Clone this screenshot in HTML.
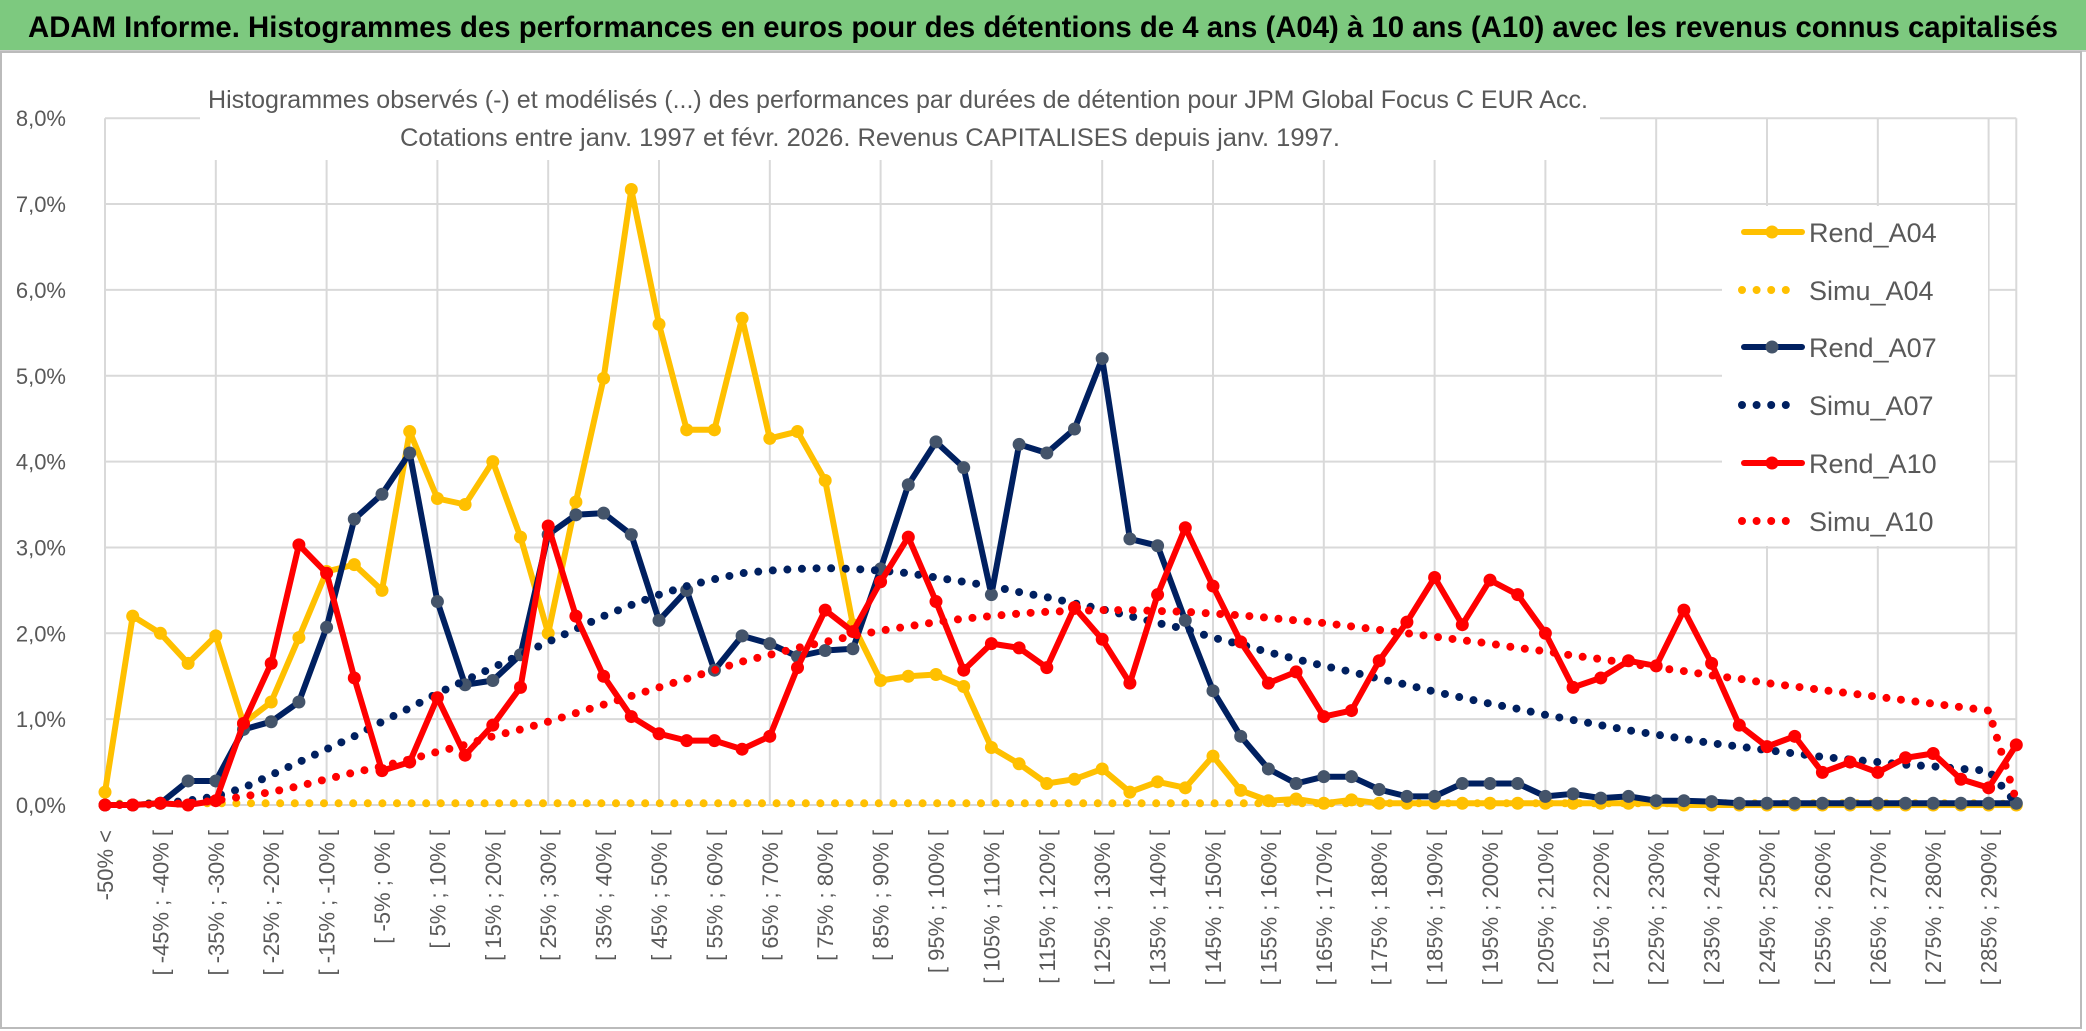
<!DOCTYPE html>
<html><head><meta charset="utf-8"><style>
html,body{margin:0;padding:0;background:#fff;}
svg{display:block;font-family:"Liberation Sans",sans-serif;}
</style></head><body>
<svg id="chart" width="2086" height="1031" viewBox="0 0 2086 1031" xmlns="http://www.w3.org/2000/svg">
<rect x="0" y="0" width="2086" height="1031" fill="#fff"/>
<rect x="0" y="0" width="2086" height="50" fill="#7dc97f"/>
<line x1="0" y1="51" x2="2086" y2="51" stroke="#ccc" stroke-width="2"/>
<text x="1043" y="37" text-anchor="middle" font-size="30" font-weight="bold" fill="#000" textLength="2030" lengthAdjust="spacingAndGlyphs">ADAM Informe. Histogrammes des performances en euros pour des détentions de 4 ans (A04) à 10 ans (A10) avec les revenus connus capitalisés</text>
<rect x="1" y="52" width="2080" height="976" fill="none" stroke="#bbb" stroke-width="2"/>
<g id="grid"></g>
<rect x="200" y="70" width="1400" height="90" fill="#fff"/>
<rect x="1722" y="206" width="266" height="340" fill="#fff"/>
<text x="898" y="108" text-anchor="middle" font-size="25" fill="#595959" textLength="1380" lengthAdjust="spacingAndGlyphs">Histogrammes observés (-) et modélisés (...) des performances par durées de détention pour JPM Global Focus C EUR Acc.</text>
<text x="870" y="146" text-anchor="middle" font-size="25" fill="#595959" textLength="940" lengthAdjust="spacingAndGlyphs">Cotations entre janv. 1997 et févr. 2026. Revenus CAPITALISES depuis janv. 1997.</text>
<g id="yaxis"></g>
<g id="xaxis"></g>
<g id="series"></g>
<g id="legend"></g>
</svg>
<script>
const rendA04 = [0.15,2.2,2.0,1.65,1.97,0.95,1.2,1.95,2.72,2.8,2.5,4.35,3.57,3.5,4.0,3.12,2.0,3.53,4.97,7.17,5.6,4.37,4.37,5.67,4.27,4.35,3.78,2.1,1.45,1.5,1.52,1.38,0.67,0.48,0.25,0.3,0.42,0.15,0.27,0.2,0.57,0.17,0.05,0.07,0.02,0.06,0.02,0.02,0.02,0.02,0.02,0.02,0.02,0.02,0.02,0.02,0.02,0.0,0.0,0.0,0.0,0.0,0.0,0.0,0.0,0.0,0.0,0.0,0.0,0.0];
const simuA04 = [0.01,0.02,0.02,0.02,0.02,0.02,0.02,0.02,0.02,0.02,0.02,0.02,0.02,0.02,0.02,0.02,0.02,0.02,0.02,0.02,0.02,0.02,0.02,0.02,0.02,0.02,0.02,0.02,0.02,0.02,0.02,0.02,0.02,0.02,0.02,0.02,0.02,0.02,0.02,0.02,0.02,0.02,0.02,0.02,0.02,0.02,0.02,0.02,0.02,0.02,0.02,0.02,0.02,0.02,0.02,0.02,0.02,0.02,0.02,0.02,0.02,0.02,0.02,0.02,0.02,0.02,0.02,0.02,0.02,0.01];
const rendA07 = [0,0,0.02,0.28,0.28,0.88,0.97,1.2,2.07,3.33,3.62,4.1,2.37,1.4,1.45,1.75,3.15,3.38,3.4,3.15,2.15,2.5,1.57,1.97,1.88,1.73,1.8,1.82,2.75,3.73,4.23,3.93,2.45,4.2,4.1,4.38,5.2,3.1,3.02,2.15,1.33,0.8,0.42,0.25,0.33,0.33,0.18,0.1,0.1,0.25,0.25,0.25,0.1,0.13,0.08,0.1,0.05,0.05,0.04,0.02,0.02,0.02,0.02,0.02,0.02,0.02,0.02,0.02,0.02,0.02];
const simuA07 = [0,0.01,0.02,0.05,0.1,0.2,0.35,0.5,0.65,0.8,0.97,1.13,1.3,1.45,1.6,1.75,1.9,2.05,2.2,2.33,2.45,2.55,2.63,2.7,2.73,2.75,2.76,2.75,2.73,2.7,2.65,2.6,2.55,2.48,2.42,2.35,2.28,2.2,2.12,2.05,1.95,1.87,1.78,1.7,1.62,1.55,1.47,1.4,1.32,1.25,1.18,1.12,1.05,0.99,0.93,0.87,0.82,0.77,0.72,0.68,0.64,0.6,0.56,0.53,0.5,0.47,0.45,0.42,0.4,0.02];
const rendA10 = [0,0,0.02,0,0.05,0.95,1.65,3.03,2.7,1.48,0.4,0.5,1.25,0.58,0.93,1.37,3.25,2.2,1.5,1.03,0.83,0.75,0.75,0.65,0.8,1.6,2.27,2.02,2.6,3.12,2.37,1.57,1.88,1.83,1.6,2.3,1.93,1.42,2.45,3.23,2.55,1.9,1.42,1.55,1.03,1.1,1.68,2.13,2.65,2.1,2.62,2.45,2.0,1.37,1.48,1.68,1.62,2.27,1.65,0.93,0.68,0.8,0.38,0.5,0.38,0.55,0.6,0.3,0.2,0.7];
const simuA10 = [0,0,0.01,0.02,0.05,0.1,0.15,0.22,0.3,0.38,0.45,0.53,0.62,0.7,0.8,0.88,0.97,1.07,1.17,1.27,1.37,1.47,1.57,1.67,1.75,1.83,1.9,1.97,2.03,2.08,2.13,2.17,2.2,2.23,2.25,2.26,2.27,2.27,2.26,2.25,2.23,2.21,2.18,2.15,2.12,2.08,2.04,2.0,1.96,1.92,1.88,1.83,1.79,1.74,1.7,1.65,1.6,1.56,1.51,1.47,1.42,1.38,1.34,1.3,1.26,1.22,1.18,1.14,1.1,0.05];
const yTicks = [0,1,2,3,4,5,6,7,8];
const categories = ["-50% <"];
for (let k = 1; k < 70; k++) categories.push("[ " + (-55 + 5*k) + "% ; " + (-50 + 5*k) + "% [");
const seriesNames = ["Rend_A04","Simu_A04","Rend_A07","Simu_A07","Rend_A10","Simu_A10"];

const NS = "http://www.w3.org/2000/svg";
const X0 = 105, DX = 27.7, Y0 = 805, DY = 85.85;
const xs = i => X0 + i * DX;
const ys = v => Y0 - v * DY;
function mk(tag, attrs, parent) { const e = document.createElementNS(NS, tag); for (const k in attrs) e.setAttribute(k, attrs[k]); parent.appendChild(e); return e; }

const grid = document.getElementById('grid');
const xEnd = xs(categories.length - 1);
yTicks.forEach(t => {
  const l = mk('line', {x1: X0, x2: xEnd, y1: ys(t), y2: ys(t), stroke: '#d9d9d9', 'stroke-width': 2}, grid);
  
  
});
for (let i = 0; i < categories.length; i += 4) {
  const l = mk('line', {x1: xs(i), x2: xs(i), y1: ys(8), y2: ys(0), stroke: '#d9d9d9', 'stroke-width': 2}, grid);
  
  
}
const last = mk('line', {x1: xEnd, x2: xEnd, y1: ys(8), y2: ys(0), stroke: '#d9d9d9', 'stroke-width': 2}, grid);



const yaxis = document.getElementById('yaxis');
yTicks.forEach(t => {
  const tx = mk('text', {x: 66, y: ys(t) + 8, 'text-anchor': 'end', 'font-size': 22, fill: '#595959'}, yaxis);
  
  
  tx.textContent = t.toFixed(1).replace('.', ',') + '%';
});

const xaxis = document.getElementById('xaxis');
categories.forEach((c, i) => {
  if (i % 2) return;
  const x = xs(i) + 8, y = 830;
  const tx = mk('text', {x: x, y: y, 'text-anchor': 'end', 'font-size': 22, fill: '#595959', transform: 'rotate(-90 ' + x + ' ' + y + ')'}, xaxis);
  
  
  tx.textContent = c;
});

const seriesG = document.getElementById('series');
function solid(data, color, mcolor, name) {
  const g = mk('g', {}, seriesG);
  
  
  const pts = data.map((v, i) => xs(i).toFixed(1) + ',' + ys(v).toFixed(1)).join(' ');
  mk('polyline', {points: pts, fill: 'none', stroke: color, 'stroke-width': 6, 'stroke-linejoin': 'round'}, g);
  data.forEach((v, i) => {
    const c = mk('circle', {cx: xs(i), cy: ys(v), r: 6.5, fill: mcolor}, g);
    
    
  });
}
function dotted(data, color, name) {
  const g = mk('g', {}, seriesG);
  
  
  const pts = data.map((v, i) => xs(i).toFixed(1) + ',' + ys(v).toFixed(1)).join(' ');
  mk('polyline', {points: pts, fill: 'none', stroke: color, 'stroke-width': 8, 'stroke-linecap': 'round', 'stroke-dasharray': '0 14.6'}, g);
}
solid(rendA04, '#ffc000', '#ffc000', 'rend-a04-line');
dotted(simuA04, '#ffc000', 'simu-a04-line');
solid(rendA07, '#002060', '#44546a', 'rend-a07-line');
dotted(simuA07, '#002060', 'simu-a07-line');
solid(rendA10, '#ff0000', '#ff0000', 'rend-a10-line');
dotted(simuA10, '#ff0000', 'simu-a10-line');

const legend = document.getElementById('legend');
const legColors = ['#ffc000','#ffc000','#002060','#002060','#ff0000','#ff0000'];
const legMarker = ['#ffc000','#ffc000','#44546a','#002060','#ff0000','#ff0000'];
const legY = [232, 290, 347, 405, 463, 521];
seriesNames.forEach((n, k) => {
  const g = mk('g', {}, legend);
  
  
  const y = legY[k];
  if (k % 2 === 0) {
    mk('line', {x1: 1744, x2: 1802, y1: y, y2: y, stroke: legColors[k], 'stroke-width': 6, 'stroke-linecap': 'round'}, g);
    mk('circle', {cx: 1772, cy: y, r: 6.5, fill: legMarker[k]}, g);
  } else {
    mk('line', {x1: 1742, x2: 1800, y1: y, y2: y, stroke: legColors[k], 'stroke-width': 8, 'stroke-linecap': 'round', 'stroke-dasharray': '0 14.6'}, g);
  }
  const t = mk('text', {x: 1809, y: y + 10, 'font-size': 27, fill: '#595959'}, g);
  t.textContent = n;
});
</script>
</body></html>
